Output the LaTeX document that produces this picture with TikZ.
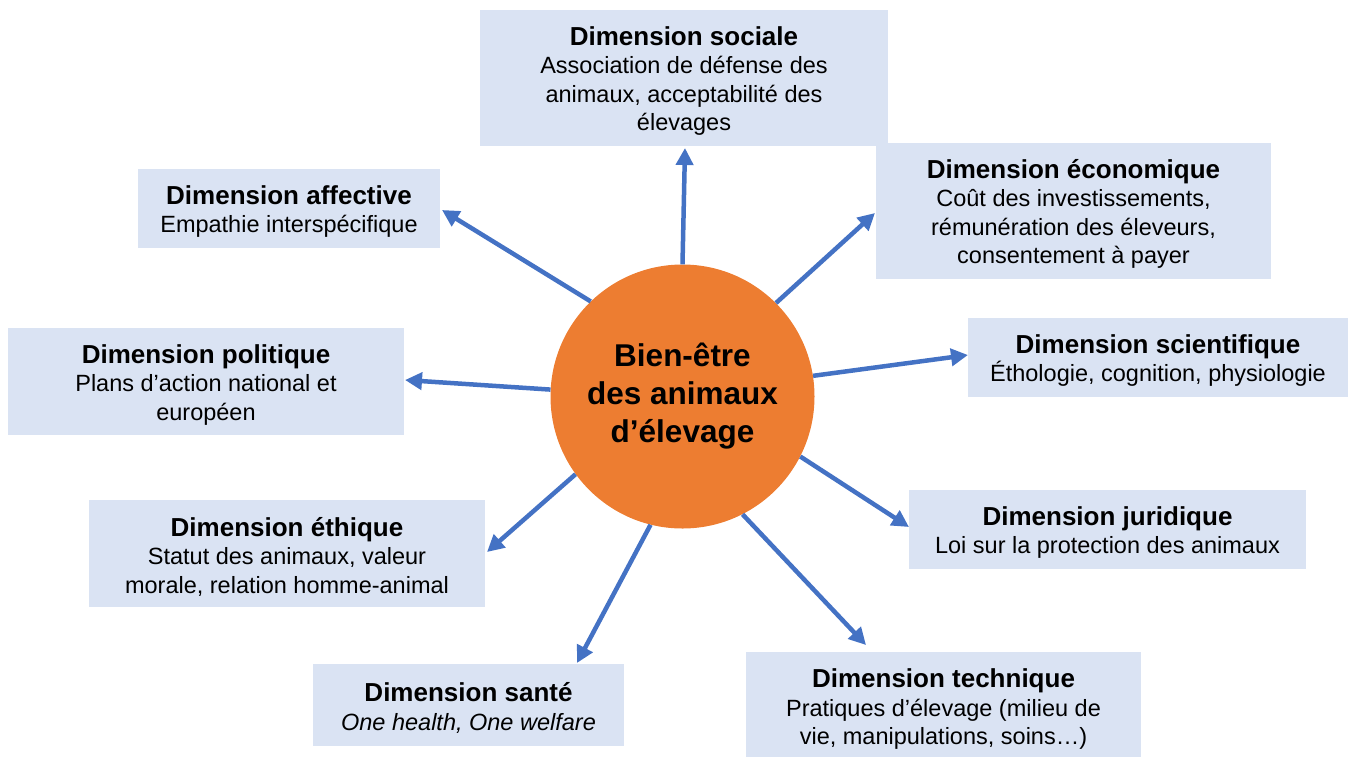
\documentclass[tikz,border=0pt]{standalone}
\usepackage{fontspec}
\setmainfont{Liberation Sans}
\usetikzlibrary{arrows.meta}
\definecolor{boxfill}{HTML}{DAE3F3}
\definecolor{arrowblue}{HTML}{4472C4}
\definecolor{circorange}{HTML}{ED7D31}
\tikzset{
  dimbox/.style={fill=boxfill, draw=none, inner sep=0pt, align=center, font=\fontsize{23.5}{28.5}\selectfont},
  link/.style={draw=arrowblue, line width=4.5pt, -{Triangle[length=17pt,width=17pt]}},
  center/.style={circle, fill=circorange, minimum size=264pt, inner sep=0pt, align=center, font=\fontsize{31.5}{38}\selectfont\bfseries}
}
\newcommand{\dtitle}[1]{{\fontsize{26}{29}\selectfont\bfseries\rule{0pt}{25pt}#1}}
\begin{document}
\begin{tikzpicture}[x=1pt,y=-1pt]
\useasboundingbox (0,0) rectangle (1350,756);
\clip (0,0) rectangle (1350,756);
\node[center] (c) at (682.5,396.5) {Bien-être\\des animaux\\d’élevage};

\node[dimbox, minimum width=408, minimum height=136] (soc) at (684,78)
  {\dtitle{Dimension sociale}\\Association de défense des\\animaux, acceptabilité des\\élevages};
\node[dimbox, minimum width=302, minimum height=79] (aff) at (289,208.5)
  {\dtitle{Dimension affective}\\Empathie interspécifique};
\node[dimbox, minimum width=395, minimum height=136] (eco) at (1073.5,211)
  {\dtitle{Dimension économique}\\Coût des investissements,\\rémunération des éleveurs,\\consentement à payer};
\node[dimbox, minimum width=396, minimum height=107] (pol) at (206,381.5)
  {\dtitle{Dimension politique}\\Plans d’action national et\\européen};
\node[dimbox, minimum width=380, minimum height=79] (sci) at (1158,357.5)
  {\dtitle{Dimension scientifique}\\Éthologie, cognition, physiologie};
\node[dimbox, minimum width=396, minimum height=107] (eth) at (287,553.5)
  {\dtitle{Dimension éthique}\\Statut des animaux, valeur\\morale, relation homme-animal};
\node[dimbox, minimum width=397, minimum height=79] (jur) at (1107.5,529.5)
  {\dtitle{Dimension juridique}\\Loi sur la protection des animaux};
\node[dimbox, minimum width=311, minimum height=82] (san) at (468.5,705)
  {\dtitle{Dimension santé}\\\textit{One health, One welfare}};
\node[dimbox, minimum width=395, minimum height=108] (tec) at (943.5,706)
  {\dtitle{Dimension technique}\\Pratiques d’élevage (milieu de\\vie, manipulations, soins…)};

\coordinate (tsoc) at (685,148);
\coordinate (taff) at (442,210);
\coordinate (teco) at (875,213);
\coordinate (tpol) at (405,380);
\coordinate (tsci) at (968,355);
\coordinate (teth) at (487,552);
\coordinate (tjur) at (909,527);
\coordinate (tsan) at (577,663);
\coordinate (ttec) at (866,645);

\foreach \n/\a in {soc/90.2,aff/134.4,eco/45.3,pol/177.2,sci/9.2,eth/216.6,jur/333.5,san/256.6,tec/297}
  \draw[link] (c.\a) -- (t\n);
\end{tikzpicture}
\end{document}
